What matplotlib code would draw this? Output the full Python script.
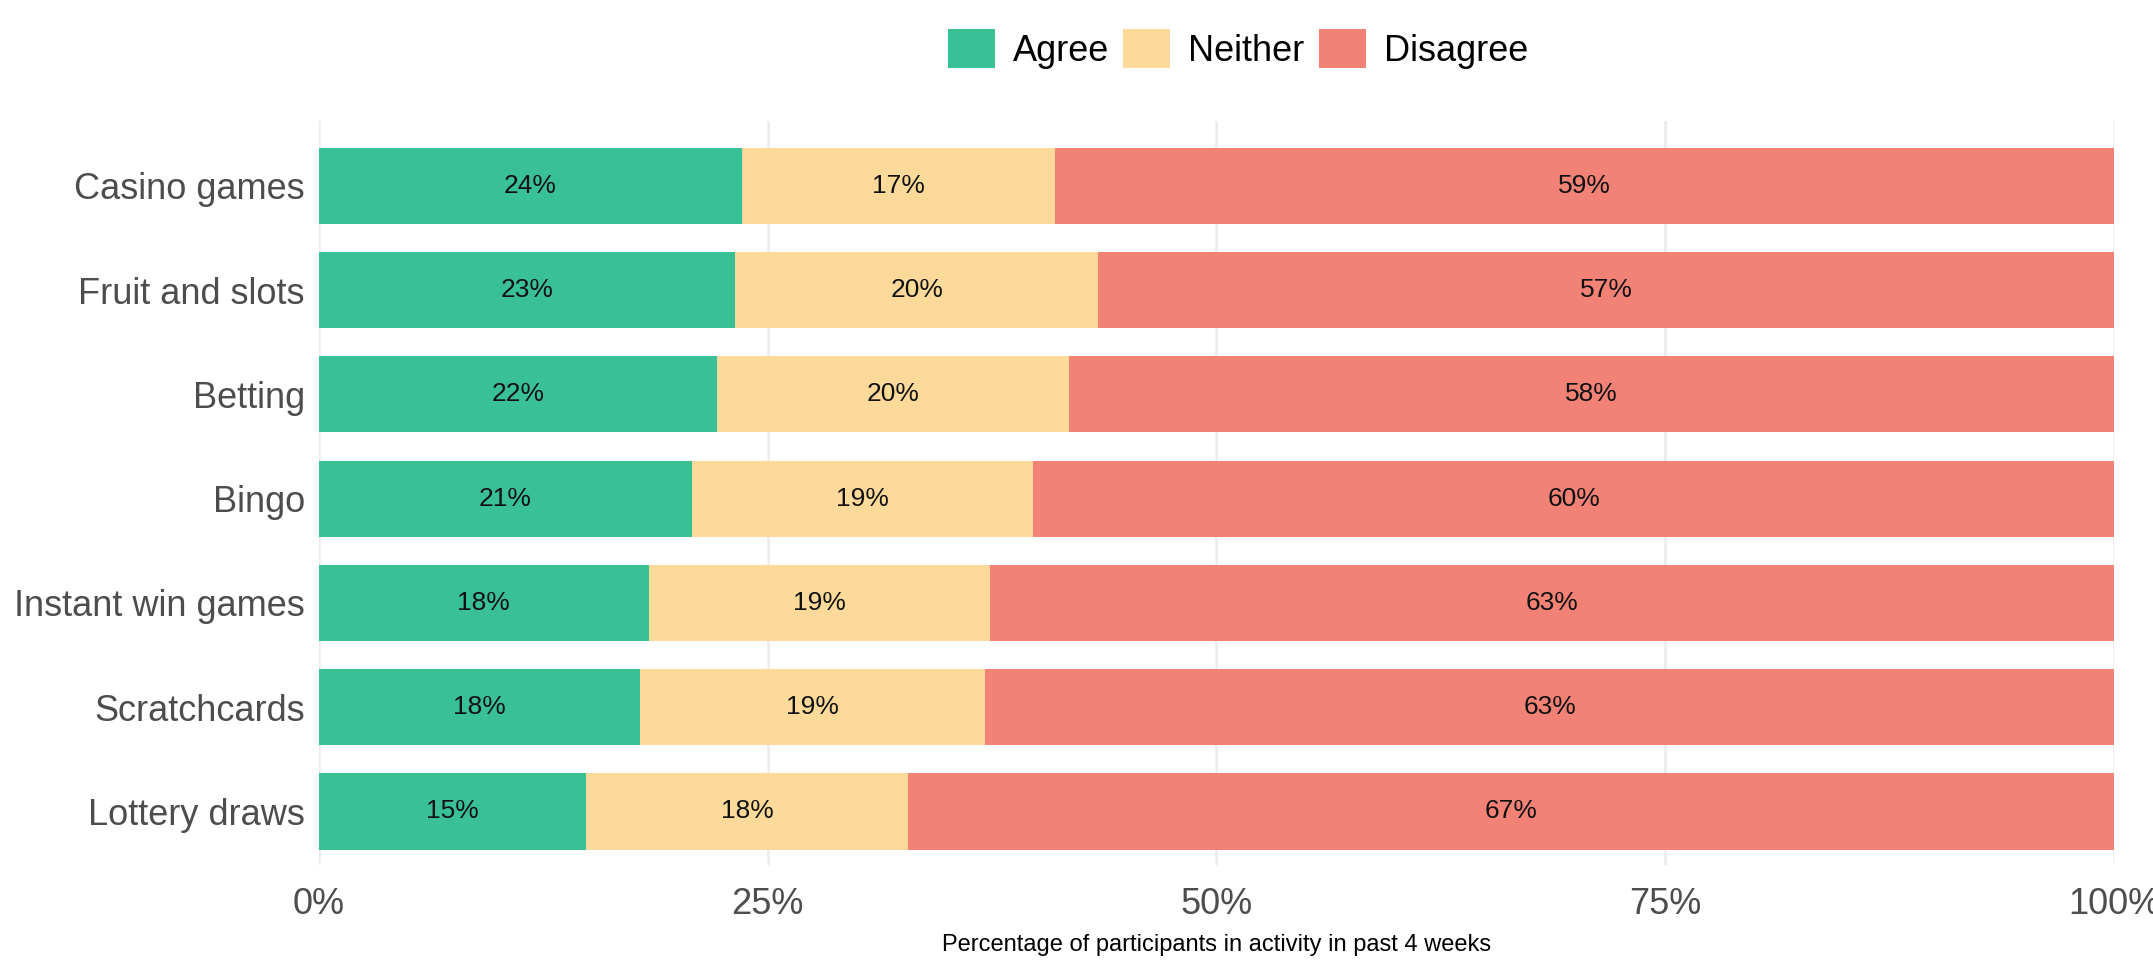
#Barras apiladas horizontales: acuerdo por actividad de juego
import numpy as np
import matplotlib.pyplot as plt
from matplotlib.patches import Patch

plt.rcParams['font.family'] = ['Liberation Sans', 'DejaVu Sans']

categorias = ['Casino games', 'Fruit and slots', 'Betting', 'Bingo',
              'Instant win games', 'Scratchcards', 'Lottery draws']
agree = [23.6, 23.2, 22.2, 20.8, 18.4, 17.9, 14.9]
neither = [17.4, 20.2, 19.6, 19.0, 19.0, 19.2, 17.9]
disagree = [59.0, 56.6, 58.2, 60.2, 62.6, 62.9, 67.2]
series = ['Agree', 'Neither', 'Disagree']
colores = ['#3AC097', '#FDDA9A', '#F38276']
ticks_x = [0, 25, 50, 75, 100]

fig = plt.figure(figsize=(21.53, 9.77), dpi=100)
ax = fig.add_axes([0.148, 0.115, 0.834, 0.761])

y = np.arange(len(categorias))
izq = np.zeros(len(categorias))
for vals, col in zip([agree, neither, disagree], colores):
    vals = np.array(vals)
    ax.barh(y, vals, left=izq, height=0.73, color=col, zorder=2)
    for yi, l, v in zip(y, izq, vals):
        ax.text(l + v / 2, yi, '%.0f%%' % v, ha='center', va='center',
                fontsize=19, color='#111111', zorder=3)
    izq = izq + vals

ax.set_xlim(0, 100)
ax.set_ylim(6.51, -0.62)
ax.set_yticks(y)
ax.set_yticklabels(categorias, fontsize=26, color='#4D4D4D')
ax.set_xticks(ticks_x)
ax.set_xticklabels(['%d%%' % t for t in ticks_x], fontsize=26, color='#4D4D4D')
ax.tick_params(length=0, pad=10)
ax.tick_params(axis='x', pad=16)
ax.grid(axis='x', color='#EBEBEB', linewidth=1.8, zorder=0)
for s in ax.spines.values():
    s.set_visible(False)
ax.set_xlabel('Percentage of participants in activity in past 4 weeks',
              fontsize=17, color='black', labelpad=9)

manijas = [Patch(facecolor=c, label=s) for s, c in zip(series, colores)]
fig.legend(handles=manijas, loc='center', bbox_to_anchor=(0.575, 0.95), ncol=3,
           frameon=False, fontsize=26, handlelength=1.3, handleheight=1.3,
           columnspacing=0.4, handletextpad=0.5)

fig.savefig('out.png', dpi=100)
